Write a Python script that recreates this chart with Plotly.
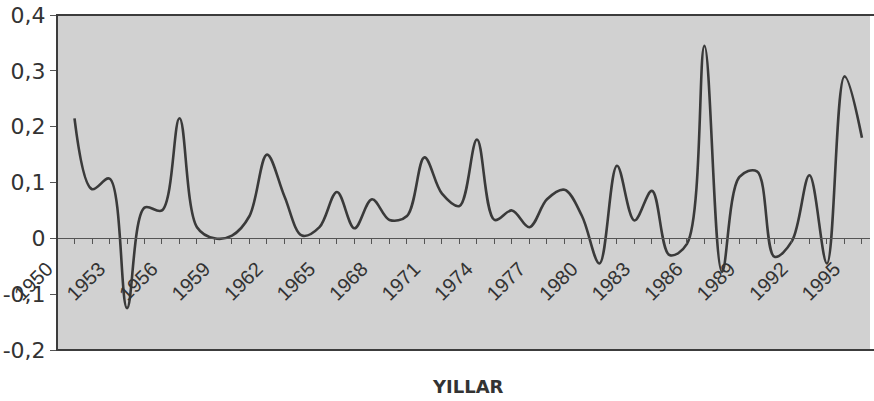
import plotly.graph_objects as go

years = list(range(1950, 1997))
values = [None, 0.215, 0.088, 0.107, -0.125, 0.055, 0.05, 0.215, 0.02, 0.0,
          0.005, 0.04, 0.15, 0.075, 0.005, 0.02, 0.083, 0.018, 0.07, 0.033,
          0.04, 0.145, 0.08, 0.058, 0.177, 0.033, 0.05, 0.02, 0.07, 0.087,
          0.04, -0.045, 0.13, 0.032, 0.085, -0.03, -0.01, 0.345, -0.06, 0.11,
          0.12, -0.033, -0.005, 0.113, -0.045, 0.29, 0.18]
y_tickvals = [-0.2, -0.1, 0, 0.1, 0.2, 0.3, 0.4]
y_ticktext = ["-0,2", "-0,1", "0", "0,1", "0,2", "0,3", "0,4"]
x_title = "YILLAR"

W, H = 874, 401
L, R, T, B = 57, 870, 15, 350

fig = go.Figure()
fig.add_trace(go.Scatter(
    x=years, y=values, mode="lines",
    line=dict(color="#3a3a3a", width=2.6, shape="spline", smoothing=1.0),
    connectgaps=False, showlegend=False, hoverinfo="skip"))

fig.update_layout(
    width=W, height=H,
    margin=dict(l=L, r=W - R, t=T, b=H - B, pad=0, autoexpand=False),
    paper_bgcolor="white", plot_bgcolor="#d1d1d1",
    xaxis=dict(
        range=[1950, 1996.46], anchor="free", position=0.2 / 0.6,
        automargin=False, ticklabeloverflow="allow",
        ticklabelshift=-10, ticklabelstandoff=5,
        tickmode="linear", tick0=1950, dtick=3, tickformat="d",
        tickangle=-45, ticks="outside", ticklen=5, tickcolor="#555",
        tickfont=dict(family="Liberation Sans", size=20, color="#333"),
        showgrid=False, zeroline=False, showline=True,
        linecolor="#555", linewidth=1,
        minor=dict(tickmode="linear", tick0=1950, dtick=1, ticks="outside",
                   ticklen=5, tickcolor="#555", showgrid=False),
    ),
    yaxis=dict(
        range=[-0.2, 0.4], tickvals=y_tickvals, ticktext=y_ticktext,
        automargin=False, ticklabeloverflow="allow",
        ticks="outside", ticklen=6, tickcolor="#555",
        tickfont=dict(family="DejaVu Sans", size=22, color="#333"),
        showgrid=False, zeroline=False, showline=False,
    ),
    shapes=[dict(type="rect", xref="paper", yref="paper", x0=0, x1=1.02, y0=0, y1=1,
                 line=dict(color="#3c3c3c", width=2), layer="above")],
    annotations=[dict(text=x_title, xref="paper", yref="paper", x=0.505, y=-0.11,
                      xanchor="center", yanchor="middle", showarrow=False,
                      font=dict(family="DejaVu Sans", size=18, color="#333", weight="bold"))],
)

fig.write_html("out.html", config={"displayModeBar": False},
               post_script="document.body.style.margin='0';document.body.style.padding='0';")
